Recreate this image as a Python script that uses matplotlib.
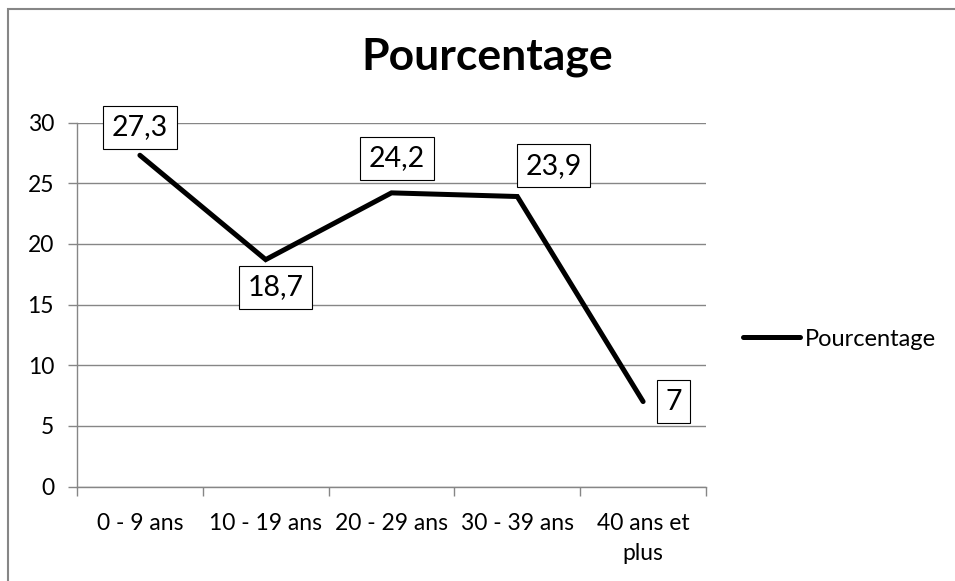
import matplotlib.pyplot as plt
from matplotlib.patches import Rectangle

# Datos
categorias = ['0 - 9 ans', '10 - 19 ans', '20 - 29 ans', '30 - 39 ans', '40 ans et\nplus']
pourcentage = [27.3, 18.7, 24.2, 23.9, 7]
etiquetas = ['27,3', '18,7', '24,2', '23,9', '7']

# desplazamiento de cada etiqueta (en puntos)
offsets = [(0, 20), (7, -20), (4, 25), (26, 22), (22, 0)]

plt.rcParams['font.family'] = ['Lato', 'DejaVu Sans']
gris = '#868686'

fig = plt.figure(figsize=(9.55, 5.81), dpi=100)
ax = fig.add_axes([77 / 955, 1 - 486.5 / 581, (706 - 77) / 955, (486.5 - 122.5) / 581])

x = list(range(len(categorias)))
ax.plot(x, pourcentage, color='black', linewidth=3.6, solid_capstyle='round',
        solid_joinstyle='miter', label='Pourcentage', zorder=3)

for xi, yi, txt, off in zip(x, pourcentage, etiquetas, offsets):
    ax.annotate(txt, (xi, yi), xytext=off, textcoords='offset points',
                ha='center', va='center', fontsize=20.5, zorder=4,
                bbox=dict(boxstyle='square,pad=0.3', fc='white', ec='black', lw=0.8))

ax.set_xlim(-0.5, 4.5)
ax.set_ylim(0, 30)
ax.set_yticks([0, 5, 10, 15, 20, 25, 30])

# ticks en los limites de cada categoria, etiquetas en el centro
ax.set_xticks([i - 0.5 for i in range(len(categorias) + 1)])
ax.set_xticklabels([])
ax.set_xticks(x, minor=True)
ax.set_xticklabels(categorias, minor=True, fontsize=16.5, linespacing=1.55)
ax.tick_params(axis='x', which='minor', length=0, pad=19)
ax.tick_params(axis='x', which='major', length=6.5, width=1, color=gris)
ax.tick_params(axis='y', length=6.5, width=1, color=gris, pad=10, labelsize=16.5)

ax.grid(axis='y', color=gris, linewidth=1)
ax.set_axisbelow(True)
for s in ['top', 'right']:
    ax.spines[s].set_visible(False)
for s in ['left', 'bottom']:
    ax.spines[s].set_color(gris)
    ax.spines[s].set_linewidth(1)

fig.text(487 / 955, 1 - 57 / 581, 'Pourcentage', ha='center', va='center',
         fontsize=32, fontweight='bold')

fig.legend(loc='center left', bbox_to_anchor=(743 / 955, 1 - 339 / 581), frameon=False,
           fontsize=17, handlelength=2.4, handletextpad=0.2, borderpad=0, borderaxespad=0)

# borde del grafico
fig.patches.append(Rectangle((7.5 / 955, -0.1), 2, 1.1 - 9.5 / 581, transform=fig.transFigure,
                             fill=False, edgecolor=gris, linewidth=1.5))

plt.savefig('out.png', dpi=100)
